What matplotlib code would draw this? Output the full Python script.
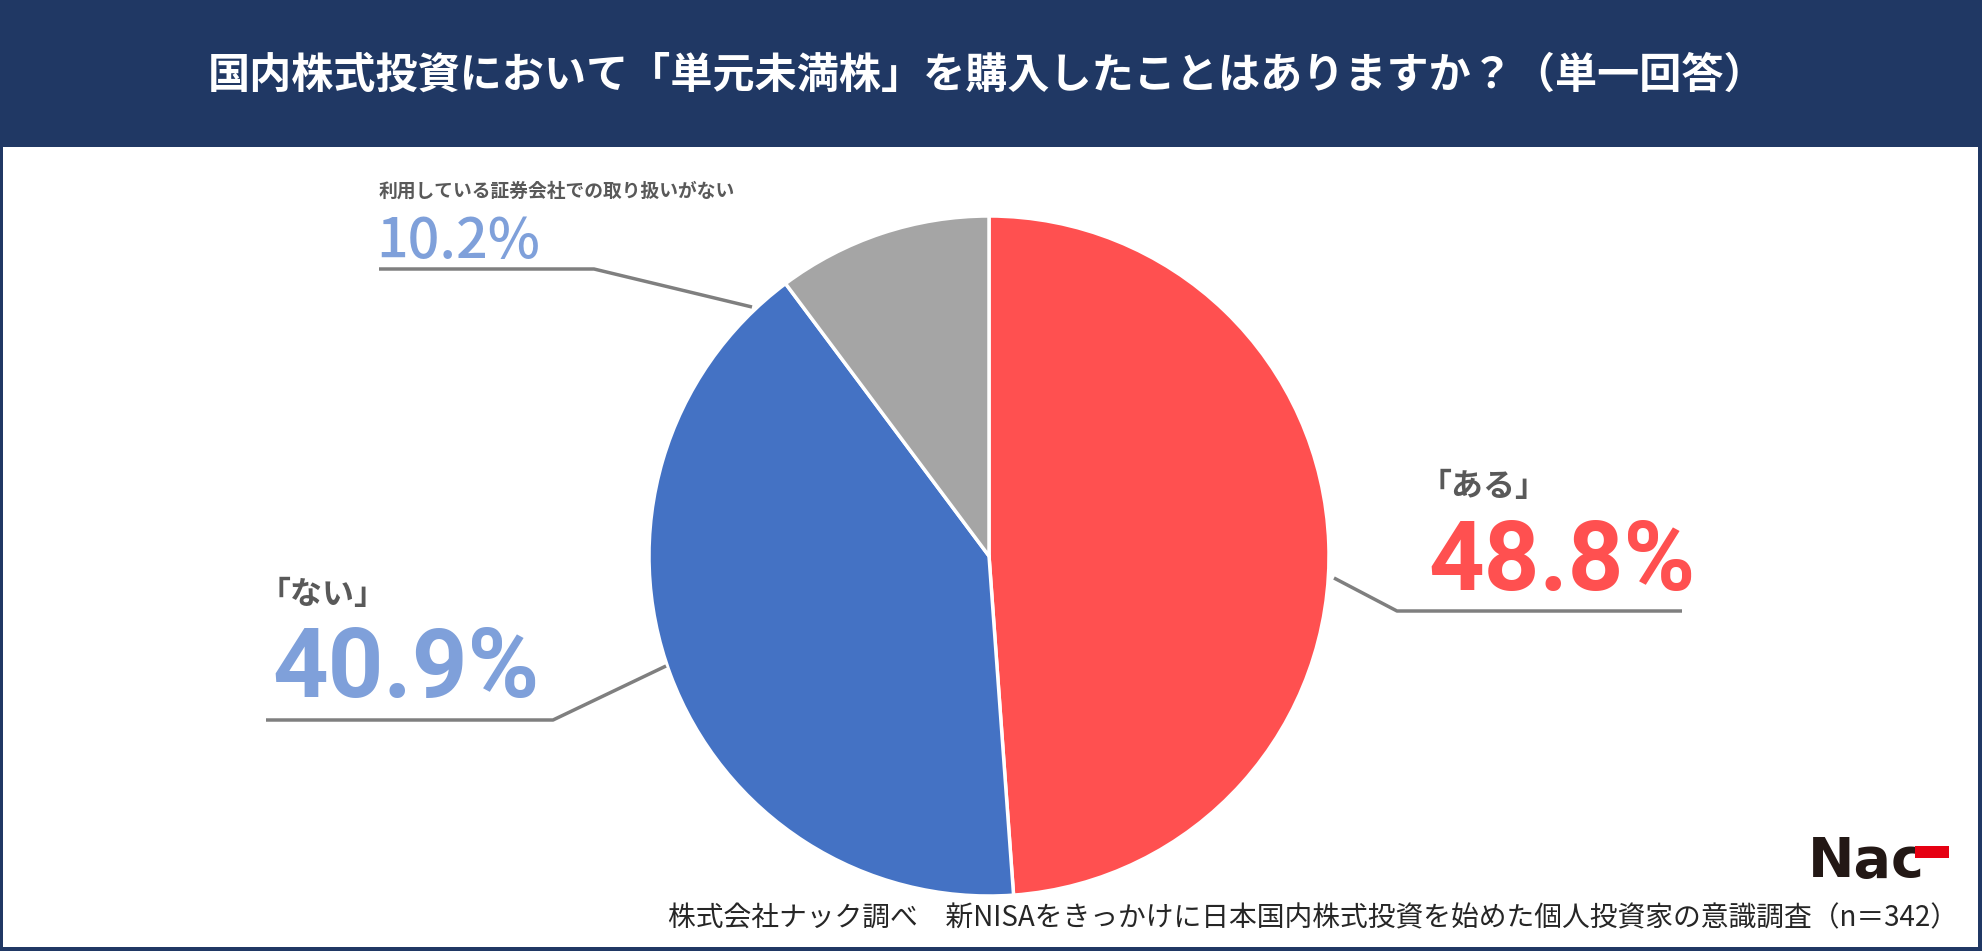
import matplotlib
matplotlib.use("Agg")
import matplotlib.pyplot as plt
from matplotlib.patches import Rectangle
import numpy as np

plt.rcParams['font.family'] = ['Noto Sans CJK JP', 'DejaVu Sans']

# ---- data ----
categories = ["「ある」", "「ない」", "利用している証券会社での取り扱いがない"]
values = [48.8, 40.9, 10.2]
pct_labels = ["48.8%", "40.9%", "10.2%"]
colors = ["#FF5050", "#4472C4", "#A5A5A5"]
title = "国内株式投資において「単元未満株」を購入したことはありますか？（単一回答）"
footer = "株式会社ナック調べ　新NISAをきっかけに日本国内株式投資を始めた個人投資家の意識調査（n＝342）"

W, H = 1983, 951
NAVY = "#203864"
fig = plt.figure(figsize=(W / 100, H / 100), dpi=100)
ax = fig.add_axes([0, 0, 1, 1])

def Y(py):
    return H - py

# frame & banner
ax.add_patch(Rectangle((0, 0), W, H, facecolor=NAVY, edgecolor='none', zorder=0))
ax.add_patch(Rectangle((3, 4), W - 3 - 5, Y(147) - 4, facecolor='white', edgecolor='none', zorder=0.5))
ax.text(W / 2 - 4, Y(76), title, color='white', fontsize=30.3, fontweight='bold',
        ha='center', va='center', zorder=3)

# pie
cx, cy, r = 989, Y(556), 340
wedges, _ = ax.pie(values, colors=colors, startangle=90, counterclock=False,
                   center=(cx, cy), radius=r, frame=True,
                   wedgeprops=dict(edgecolor='white', linewidth=2.5))
ax.set_xlim(0, W)
ax.set_ylim(0, H)
ax.set_aspect('auto')
ax.axis('off')

# leader lines (layout, pixel coords)
LINE = "#7F7F7F"
leaders = [
    [(1334, 578), (1397, 611), (1682, 611)],
    [(666, 666), (553, 720), (266, 720)],
    [(752, 307), (594, 269), (379, 269)],
]
for pts in leaders:
    xs = [p[0] for p in pts]
    ys = [Y(p[1]) for p in pts]
    ax.plot(xs, ys, color=LINE, lw=2.5, zorder=2, solid_capstyle='butt')

GRAY_TXT = "#595959"
LIGHT_BLUE = "#7FA0DA"
PCT_FONT = ['Roboto', 'DejaVu Sans']
# label texts
ax.text(1420, Y(487), categories[0], color=GRAY_TXT, fontsize=23, fontweight='bold',
        ha='left', va='center')
ax.text(1428, Y(564), pct_labels[0], color=colors[0], fontsize=70, fontweight='bold',
        ha='left', va='center', family=PCT_FONT)
ax.text(259, Y(595), categories[1], color=GRAY_TXT, fontsize=23, fontweight='bold',
        ha='left', va='center')
ax.text(272, Y(671), pct_labels[1], color=LIGHT_BLUE, fontsize=70, fontweight='bold',
        ha='left', va='center', family=PCT_FONT)
ax.text(379, Y(191), categories[2], color=GRAY_TXT, fontsize=13.5, fontweight='bold',
        ha='left', va='center')
ax.text(376, Y(242), pct_labels[2], color=LIGHT_BLUE, fontsize=40, fontweight='medium',
        ha='left', va='center')

# footer
ax.text(1958, Y(918), footer, color="#262626", fontsize=20, ha='right', va='center')

# logo
ax.text(1808, Y(862), "Nac", color="#231815", fontsize=40, fontweight='black',
        ha='left', va='center', family=['DejaVu Sans'])
ax.add_patch(Rectangle((1915, Y(858)), 34, 12, facecolor="#E60012", edgecolor='none', zorder=4))

fig.savefig("out.png", dpi=100)
